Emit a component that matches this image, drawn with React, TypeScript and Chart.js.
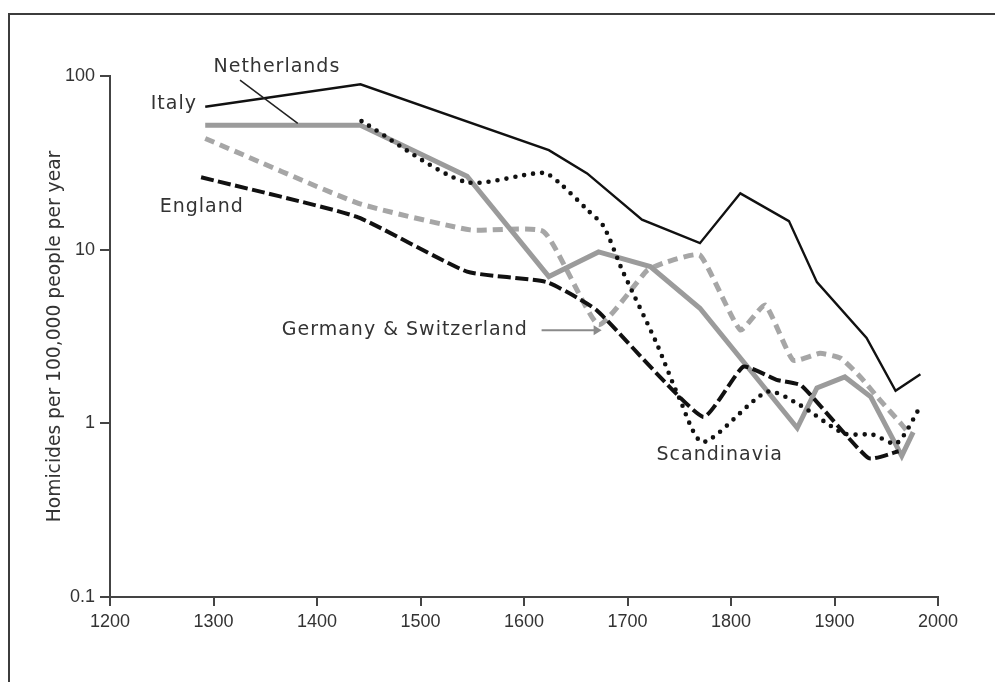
import React, { useEffect, useRef } from 'react';
import { Chart, registerables } from 'chart.js';

Chart.register(...registerables);

// ---- Data ----
const italyYears = [1292, 1442, 1624, 1661, 1714, 1770, 1809, 1856, 1883, 1931, 1959, 1983];
const italyValues = [66.5, 89.6, 37.4, 27.5, 14.9, 10.9, 21.1, 14.6, 6.5, 3.1, 1.54, 1.92];

const netherlandsYears = [1292, 1442, 1545, 1624, 1672, 1722, 1770, 1864, 1883, 1910, 1935, 1965, 1976];
const netherlandsValues = [52, 52, 26.5, 7.0, 9.7, 8.0, 4.6, 0.94, 1.6, 1.85, 1.42, 0.65, 0.89];

const scandinaviaYears = [1443, 1543, 1619, 1635, 1661, 1677, 1695, 1728, 1750, 1773, 1835, 1867, 1909, 1937, 1960, 1983];
const scandinaviaValues = [55, 24.6, 27.7, 24, 17, 13.6, 7.6, 2.9, 1.4, 0.78, 1.52, 1.27, 0.875, 0.86, 0.767, 1.25];

const englandYears = [1288, 1438, 1545, 1622, 1670, 1773, 1812, 1844, 1868, 1933, 1962];
const englandValues = [26.1, 15.5, 7.47, 6.5, 4.49, 1.09, 2.12, 1.78, 1.65, 0.63, 0.69];

const germanyYears = [1292, 1440, 1548, 1619, 1672, 1719, 1738, 1770, 1809, 1833, 1860, 1886, 1906, 1925, 1944, 1964, 1971];
const germanyValues = [43.7, 18.5, 13, 12.7, 3.7, 7.6, 8.5, 9.3, 3.45, 4.8, 2.31, 2.53, 2.37, 1.85, 1.36, 1.0, 0.89];

const xTickValues = [1200, 1300, 1400, 1500, 1600, 1700, 1800, 1900, 2000];
const yTickValues = [0.1, 1, 10, 100];

const yAxisTitle = 'Homicides per 100,000 people per year';

// Series labels placed in data coordinates
const seriesLabels = [
  { text: 'Netherlands', year: 1300, value: 113, align: 'left' },
  { text: 'Italy', year: 1284, value: 69, align: 'right' },
  { text: 'England', year: 1248, value: 17.7, align: 'left' },
  { text: 'Germany & Switzerland', year: 1366, value: 3.44, align: 'left' },
  { text: 'Scandinavia', year: 1728, value: 0.657, align: 'left' },
];
const leaderLine = { from: [1325.6, 94.6], to: [1381.4, 53.3] };
const labelArrow = { from: [1617, 3.44], to: [1675, 3.44] };

const toPoints = (xs: number[], ys: number[]) => xs.map((x, i) => ({ x, y: ys[i] }));

const TEXT_COLOR = '#333333';
const AXIS_COLOR = '#444444';

const overlayPlugin = {
  id: 'overlay',
  beforeDraw(chart: any) {
    const ctx = chart.ctx;
    ctx.save();
    ctx.fillStyle = '#ffffff';
    ctx.fillRect(0, 0, chart.width, chart.height);
    ctx.restore();
  },
  afterDraw(chart: any) {
    const { ctx } = chart;
    const xs = chart.scales.x;
    const ys = chart.scales.y;
    ctx.save();
    // frame (top and left edges of the figure box)
    ctx.strokeStyle = '#3c3c3c';
    ctx.lineWidth = 2;
    ctx.beginPath();
    ctx.moveTo(9, chart.height);
    ctx.lineTo(9, 14);
    ctx.lineTo(chart.width, 14);
    ctx.stroke();

    // labels
    ctx.fillStyle = TEXT_COLOR;
    ctx.font = '19px "DejaVu Sans"';
    try { (ctx as any).letterSpacing = '1px'; } catch (e) {}
    ctx.textBaseline = 'middle';
    seriesLabels.forEach((l) => {
      ctx.textAlign = l.align as CanvasTextAlign;
      ctx.fillText(l.text, xs.getPixelForValue(l.year), ys.getPixelForValue(l.value));
    });
    try { (ctx as any).letterSpacing = '0px'; } catch (e) {}

    // leader line for Netherlands
    ctx.strokeStyle = '#222';
    ctx.lineWidth = 1.5;
    ctx.beginPath();
    ctx.moveTo(xs.getPixelForValue(leaderLine.from[0]), ys.getPixelForValue(leaderLine.from[1]));
    ctx.lineTo(xs.getPixelForValue(leaderLine.to[0]), ys.getPixelForValue(leaderLine.to[1]));
    ctx.stroke();

    // arrow for Germany & Switzerland
    const ax0 = xs.getPixelForValue(labelArrow.from[0]);
    const ay0 = ys.getPixelForValue(labelArrow.from[1]);
    const ax1 = xs.getPixelForValue(labelArrow.to[0]);
    const ay1 = ys.getPixelForValue(labelArrow.to[1]);
    ctx.strokeStyle = '#8a8a8a';
    ctx.fillStyle = '#8a8a8a';
    ctx.lineWidth = 2;
    ctx.beginPath();
    ctx.moveTo(ax0, ay0);
    ctx.lineTo(ax1 - 6, ay1);
    ctx.stroke();
    ctx.beginPath();
    ctx.moveTo(ax1, ay1);
    ctx.lineTo(ax1 - 8, ay1 - 5);
    ctx.lineTo(ax1 - 8, ay1 + 5);
    ctx.closePath();
    ctx.fill();
    ctx.restore();
  },
};

export default function App() {
  const canvasRef = useRef<HTMLCanvasElement | null>(null);

  useEffect(() => {
    if (!canvasRef.current) return;
    const chart = new Chart(canvasRef.current, {
      type: 'line',
      data: {
        datasets: [
          {
            label: 'Italy',
            data: toPoints(italyYears, italyValues),
            borderColor: '#111111',
            borderWidth: 2.4,
            pointRadius: 0,
            tension: 0,
          },
          {
            label: 'Scandinavia',
            data: toPoints(scandinaviaYears, scandinaviaValues),
            borderColor: '#111111',
            borderWidth: 4.6,
            borderDash: [0, 9],
            borderCapStyle: 'round',
            pointRadius: 0,
            tension: 0.25,
          },
          {
            label: 'England',
            data: toPoints(englandYears, englandValues),
            borderColor: '#111111',
            borderWidth: 4,
            borderDash: [13, 4.5],
            pointRadius: 0,
            tension: 0.15,
          },
          {
            label: 'Netherlands',
            data: toPoints(netherlandsYears, netherlandsValues),
            borderColor: '#9b9b9b',
            borderWidth: 5,
            pointRadius: 0,
            tension: 0,
          },
          {
            label: 'Germany & Switzerland',
            data: toPoints(germanyYears, germanyValues),
            borderColor: '#a6a6a6',
            borderWidth: 5,
            borderDash: [10, 6],
            pointRadius: 0,
            tension: 0.15,
          },
        ],
      },
      options: {
        responsive: false,
        animation: false,
        devicePixelRatio: 1,
        layout: { padding: { left: 0, right: 57, top: 76, bottom: 0 } },
        plugins: {
          legend: { display: false },
          tooltip: { enabled: false },
        },
        scales: {
          x: {
            type: 'linear',
            min: 1200,
            max: 2000,
            afterBuildTicks: (s: any) => {
              s.ticks = xTickValues.map((v) => ({ value: v }));
            },
            afterFit: (s: any) => {
              s.height = 85;
            },
            grid: {
              drawOnChartArea: false,
              drawTicks: true,
              tickLength: 9,
              color: AXIS_COLOR,
              lineWidth: 2,
            },
            border: { display: true, color: AXIS_COLOR, width: 2 },
            ticks: {
              color: TEXT_COLOR,
              font: { family: '"Liberation Sans"', size: 18 },
              padding: 5,
              maxRotation: 0,
              autoSkip: false,
              callback: (v: any) => String(v),
            },
          },
          y: {
            type: 'logarithmic',
            min: 0.1,
            max: 100,
            afterBuildTicks: (s: any) => {
              s.ticks = yTickValues.map((v) => ({ value: v }));
            },
            afterFit: (s: any) => {
              s.width = 110;
            },
            grid: {
              drawOnChartArea: false,
              drawTicks: true,
              tickLength: 10,
              color: AXIS_COLOR,
              lineWidth: 2,
            },
            border: { display: true, color: AXIS_COLOR, width: 2 },
            ticks: {
              color: TEXT_COLOR,
              font: { family: '"Liberation Sans"', size: 18 },
              padding: 5,
              autoSkip: false,
              callback: (v: any) => (v === 0.1 ? '0.1' : String(v)),
            },
            title: {
              display: true,
              text: yAxisTitle,
              color: TEXT_COLOR,
              font: { family: '"DejaVu Sans"', size: 18.7 },
              padding: { top: 44, bottom: 0 },
            },
          },
        },
      },
      plugins: [overlayPlugin],
    } as any);
    return () => chart.destroy();
  }, []);

  return (
    <div style={{ position: 'absolute', left: 0, top: 0, width: 995, height: 682 }}>
      <canvas ref={canvasRef} width={995} height={682} style={{ display: 'block' }} />
    </div>
  );
}
